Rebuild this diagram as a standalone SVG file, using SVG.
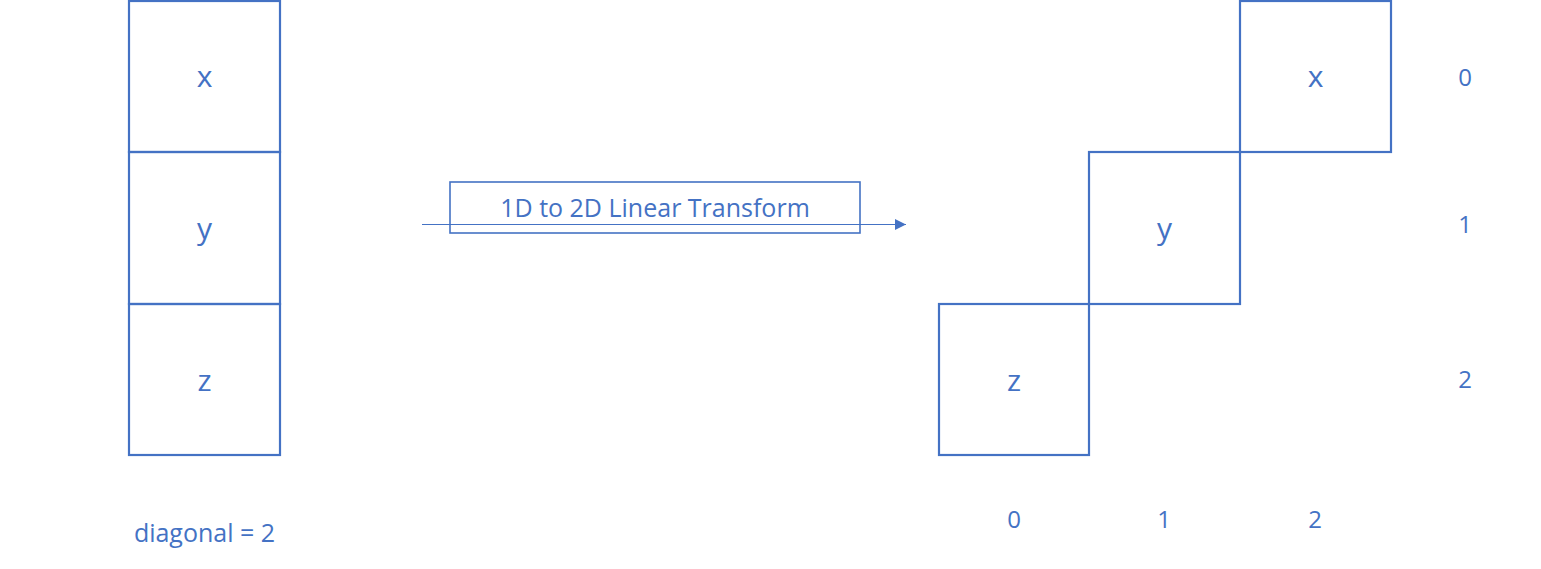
<svg xmlns="http://www.w3.org/2000/svg" width="1541" height="569" viewBox="0 0 1541 569">
<style>
.cell{fill:none;stroke:#4472C4;stroke-width:2.2}
.lbl{fill:#4472C4;font-family:"Open Sans","Noto Sans",sans-serif;text-anchor:middle}
.big{font-size:30px}
.num{font-size:24px}
</style>
<defs>
<marker id="ah" viewBox="0 0 10 10" refX="10" refY="5" markerWidth="11" markerHeight="11" markerUnits="userSpaceOnUse" orient="auto">
<path d="M0,0 L10,5 L0,10 Z" fill="#4472C4"/>
</marker>
</defs>
<rect width="1541" height="569" fill="#fff"/>
<g id="left-x"><rect class="cell" x="129" y="1" width="151" height="151"/><text class="lbl big" x="204.5" y="87">x</text></g>
<g id="left-y"><rect class="cell" x="129" y="152" width="151" height="152"/><text class="lbl big" x="204.5" y="239">y</text></g>
<g id="left-z"><rect class="cell" x="129" y="304" width="151" height="151"/><text class="lbl big" x="204.5" y="391">z</text></g>
<g id="connectors">
<line x1="422" y1="224.5" x2="906" y2="224.5" stroke="#4472C4" stroke-width="1.2" marker-end="url(#ah)"/>
</g>
<g id="transform-label"><rect x="450" y="182" width="410" height="51" fill="none" stroke="#4472C4" stroke-width="1.6"/><text class="lbl" x="655" y="217" font-size="25">1D to 2D Linear Transform</text></g>
<g id="right-z"><rect class="cell" x="939" y="304" width="150" height="151"/><text class="lbl big" x="1014" y="391">z</text></g>
<g id="right-y"><rect class="cell" x="1089" y="152" width="151" height="152"/><text class="lbl big" x="1164.5" y="239">y</text></g>
<g id="right-x"><rect class="cell" x="1240" y="1" width="151" height="151"/><text class="lbl big" x="1315.5" y="87">x</text></g>
<g id="row-idx">
<text class="lbl num" x="1465" y="86">0</text>
<text class="lbl num" x="1465" y="233">1</text>
<text class="lbl num" x="1465" y="388">2</text>
</g>
<g id="col-idx">
<text class="lbl num" x="1014" y="528">0</text>
<text class="lbl num" x="1164" y="528">1</text>
<text class="lbl num" x="1315" y="528">2</text>
</g>
<g id="diag"><text class="lbl" x="204.5" y="542" font-size="25">diagonal = 2</text></g>
</svg>
